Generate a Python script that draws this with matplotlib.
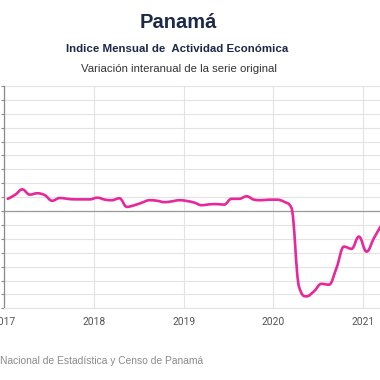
import matplotlib
matplotlib.use("Agg")
import matplotlib.pyplot as plt
import matplotlib.dates as mdates
from matplotlib.path import Path
from matplotlib.patches import PathPatch
import pandas as pd

# ---- data ----
months = pd.period_range("2017-01", "2021-03", freq="M")
imae_var = [
    4.4, 5.9, 7.8, 5.9, 6.4, 5.7, 3.7, 4.7, 4.4, 4.2, 4.2, 4.2,      # 2017
    4.8, 4.1, 3.9, 4.6, 1.5, 2.1, 3.0, 3.9, 3.7, 3.2, 3.5, 3.9,      # 2018
    3.6, 3.0, 2.1, 2.4, 2.5, 2.3, 4.4, 4.4, 5.3, 4.1, 3.9, 4.1,      # 2019
    4.1, 3.3, 1.2, -27.2, -30.7, -28.9, -26.2, -26.5, -20.4, -12.8, -13.6, -9.2,  # 2020
    -14.6, -9.6, -5.3,                                               # 2021
]
year_ticks = ["2017", "2018", "2019", "2020", "2021"]
title = "Panamá"
subtitle = "Indice Mensual de  Actividad Económica"
subtitle2 = "Variación interanual de la serie original"
footer = "Nacional de Estadística y Censo de Panamá"


def spline_path(xs, ys, smoothing=1.5):
    """Smooth (Highcharts-style) spline path through the given points."""
    denom = smoothing + 1
    n = len(xs)
    lc = [(xs[i], ys[i]) for i in range(n)]
    rc = [(xs[i], ys[i]) for i in range(n)]
    for i in range(1, n - 1):
        px, py = xs[i], ys[i]
        lx, ly = xs[i - 1], ys[i - 1]
        nx, ny = xs[i + 1], ys[i + 1]
        lcx = (smoothing * px + lx) / denom
        lcy = (smoothing * py + ly) / denom
        rcx = (smoothing * px + nx) / denom
        rcy = (smoothing * py + ny) / denom
        if rcx != lcx:
            corr = ((rcy - lcy) * (rcx - px)) / (rcx - lcx) + py - rcy
            lcy += corr
            rcy += corr
        if lcy > ly and lcy > py:
            lcy = max(ly, py)
            rcy = 2 * py - lcy
        elif lcy < ly and lcy < py:
            lcy = min(ly, py)
            rcy = 2 * py - lcy
        if rcy > ny and rcy > py:
            rcy = max(ny, py)
            lcy = 2 * py - rcy
        elif rcy < ny and rcy < py:
            rcy = min(ny, py)
            lcy = 2 * py - rcy
        lc[i] = (lcx, lcy)
        rc[i] = (rcx, rcy)
    verts = [(xs[0], ys[0])]
    codes = [Path.MOVETO]
    for i in range(1, n):
        verts += [rc[i - 1], lc[i], (xs[i], ys[i])]
        codes += [Path.CURVE4] * 3
    return Path(verts, codes)


# ---- figure ----
W = H = 380
fig = plt.figure(figsize=(W / 100, H / 100), dpi=100, facecolor="white")

left_px, top_px, bottom_px = 4.3, 86.0, 308.3
ax = fig.add_axes([left_px / W, 1 - bottom_px / H, (W - left_px) / W, (bottom_px - top_px) / H])

x = [mdates.date2num(p.to_timestamp() + pd.Timedelta(days=14)) for p in months]
path = spline_path(x, imae_var)
ax.add_patch(PathPatch(path, facecolor="none", edgecolor="#e6289a", lw=1.9,
                       joinstyle="round", capstyle="round", zorder=5))

# axes limits
x0 = pd.Timestamp("2017-01-01")
px_per_day = 89.7 / 365.25
x1 = x0 + pd.Timedelta(days=(W - left_px) / px_per_day)
ax.set_xlim(mdates.date2num(x0), mdates.date2num(x1))
ax.set_ylim(-35, 45)

# grid
ax.set_yticks(range(-35, 46, 5))
ax.set_xticks([mdates.date2num(pd.Timestamp(f"{y}-01-01")) for y in year_ticks])
ax.set_xticklabels(year_ticks)
ax.grid(True, color="#e3e3e3", lw=0.8, zorder=0)
ax.axhline(0, color="#9a9a9a", lw=0.9, zorder=2)

for s in ["top", "right"]:
    ax.spines[s].set_visible(False)
ax.spines["left"].set_color("#8a8a8a")
ax.spines["left"].set_linewidth(0.9)
ax.spines["bottom"].set_color("#e3e3e3")
ax.spines["bottom"].set_linewidth(0.8)

ax.tick_params(axis="y", left=True, length=2.5, width=0.8, color="#8a8a8a", labelleft=False)
ax.tick_params(axis="x", length=0, pad=6.5, labelsize=7.4, labelcolor="#555555")
for lab in ax.get_xticklabels():
    lab.set_fontfamily("Roboto")

# titles
fig.text(178 / W, 1 - 23 / H, title, ha="center", va="center", fontsize=14.5,
         fontweight="bold", color="#1c2a48", family="Liberation Sans")
fig.text(177.5 / W, 1 - 48.5 / H, subtitle, ha="center", va="center", fontsize=8.25,
         fontweight="bold", color="#1c2a48", family="Liberation Sans")
fig.text(178.5 / W, 1 - 68.5 / H, subtitle2, ha="center", va="center", fontsize=8.2,
         color="#333333", family="Liberation Sans")
fig.text(0, 1 - 361.5 / H, footer, ha="left", va="center", fontsize=7.35,
         color="#8a8a8a", family="Liberation Sans")

fig.savefig("out.png", dpi=100, facecolor="white")
